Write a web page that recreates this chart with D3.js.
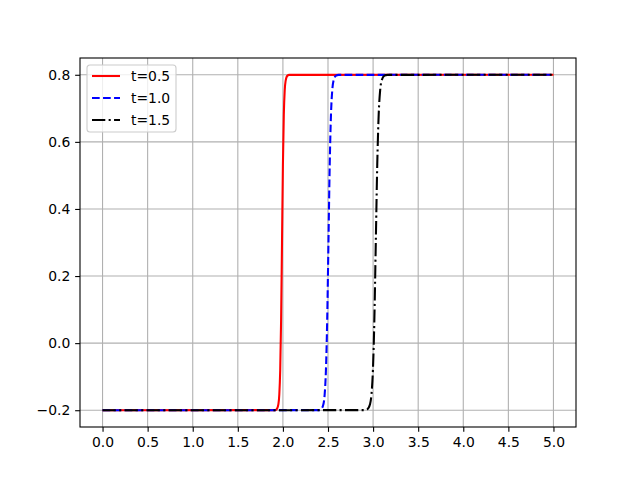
<!DOCTYPE html>
<html>
<head>
<meta charset="utf-8">
<script src="https://cdn.jsdelivr.net/npm/d3@7"></script>
<style>
  body { margin: 0; background: #fff; }
  text { font-family: "DejaVu Sans", sans-serif; }
</style>
</head>
<body>
<div id="graph"></div>
<script>
// values
var xTicks = [0.0, 0.5, 1.0, 1.5, 2.0, 2.5, 3.0, 3.5, 4.0, 4.5, 5.0];
var yTicks = [-0.2, 0.0, 0.2, 0.4, 0.6, 0.8];

var stepY = [-0.2, -0.1997, -0.1975, -0.182, -0.153, -0.081, 0.069, 0.3, 0.531, 0.681, 0.753, 0.782, 0.7975, 0.7997, 0.8];

var x05 = [0.0, 1.91, 1.93, 1.95, 1.96, 1.97, 1.98, 1.99, 2.00, 2.01, 2.02, 2.03, 2.05, 2.07, 5.0];
var x10 = [0.0, 2.393, 2.421, 2.449, 2.463, 2.477, 2.491, 2.505, 2.519, 2.533, 2.547, 2.561, 2.589, 2.617, 5.0];
var x15 = [0.0, 2.902, 2.934, 2.966, 2.982, 2.998, 3.014, 3.03, 3.046, 3.062, 3.078, 3.094, 3.126, 3.158, 5.0];

var labels = ["t=0.5", "t=1.0", "t=1.5"];
var colors = ["#ff0000", "#0000ff", "#000000"];
var dashes = ["none", "7.7,3.33", "13.3,3.33,2.08,3.33"];

var series = [x05, x10, x15].map(function(xs, i) {
  return { label: labels[i], color: colors[i], dash: dashes[i],
    points: xs.map(function(v, j) { return { x: v, y: stepY[j] }; }) };
});

var width = 640, height = 480;
var margin = { top: 58, right: 64, bottom: 53, left: 80 };
var w = width - margin.left - margin.right,
    h = height - margin.top - margin.bottom;

var svg = d3.select("#graph").append("svg")
  .attr("width", width).attr("height", height);

var x = d3.scaleLinear().domain([-0.25, 5.25]).range([0, w]);
var y = d3.scaleLinear().domain([-0.25, 0.85]).range([h, 0]);

var g = svg.append("g")
  .attr("transform", "translate(" + margin.left + "," + margin.top + ")");

// grid
g.append("g").selectAll("line").data(xTicks).enter().append("line")
  .attr("x1", function(d) { return x(d); }).attr("x2", function(d) { return x(d); })
  .attr("y1", 0).attr("y2", h)
  .attr("stroke", "#b0b0b0").attr("stroke-width", 1.1);
g.append("g").selectAll("line").data(yTicks).enter().append("line")
  .attr("y1", function(d) { return y(d); }).attr("y2", function(d) { return y(d); })
  .attr("x1", 0).attr("x2", w)
  .attr("stroke", "#b0b0b0").attr("stroke-width", 1.1);

// lines
var line = d3.line()
  .x(function(d) { return x(d.x); })
  .y(function(d) { return y(d.y); })
  .curve(d3.curveMonotoneX);

g.selectAll(".line").data(series).enter().append("path")
  .attr("class", "line")
  .attr("d", function(d) { return line(d.points); })
  .attr("fill", "none")
  .attr("stroke", function(d) { return d.color; })
  .attr("stroke-width", 2.08)
  .attr("stroke-dasharray", function(d) { return d.dash; });

// axes
var fmt = function(d) { return d3.format(".1f")(d).replace("-", "\u2212"); };
var xAxis = g.append("g").attr("transform", "translate(0," + h + ")")
  .call(d3.axisBottom(x).tickValues(xTicks).tickFormat(fmt).tickSize(4.86).tickPadding(4.86));
var yAxis = g.append("g")
  .call(d3.axisLeft(y).tickValues(yTicks).tickFormat(fmt).tickSize(4.86).tickPadding(4.86));
[xAxis, yAxis].forEach(function(a) {
  a.select(".domain").remove();
  a.selectAll("line").attr("stroke", "#000").attr("stroke-width", 1.1);
  a.selectAll("text").attr("font-family", "DejaVu Sans").attr("font-size", "13.9px").attr("fill", "#000");
});

// frame
g.append("rect").attr("width", w).attr("height", h)
  .attr("fill", "none").attr("stroke", "#000").attr("stroke-width", 1.1);

// legend
var lg = g.append("g").attr("transform", "translate(7,7)");
lg.append("rect").attr("width", 89).attr("height", 67).attr("rx", 3)
  .attr("fill", "#fff").attr("fill-opacity", 0.8)
  .attr("stroke", "#cccccc").attr("stroke-width", 1.1);
var item = lg.selectAll(".item").data(series).enter().append("g")
  .attr("transform", function(d, i) { return "translate(0," + (11 + i * 22) + ")"; });
item.append("line").attr("x1", 5).attr("x2", 33)
  .attr("stroke", function(d) { return d.color; })
  .attr("stroke-width", 2.08)
  .attr("stroke-dasharray", function(d) { return d.dash; });
item.append("text").attr("x", 44).attr("dy", "0.35em")
  .attr("font-size", "13.9px").text(function(d) { return d.label; });
</script>
</body>
</html>
